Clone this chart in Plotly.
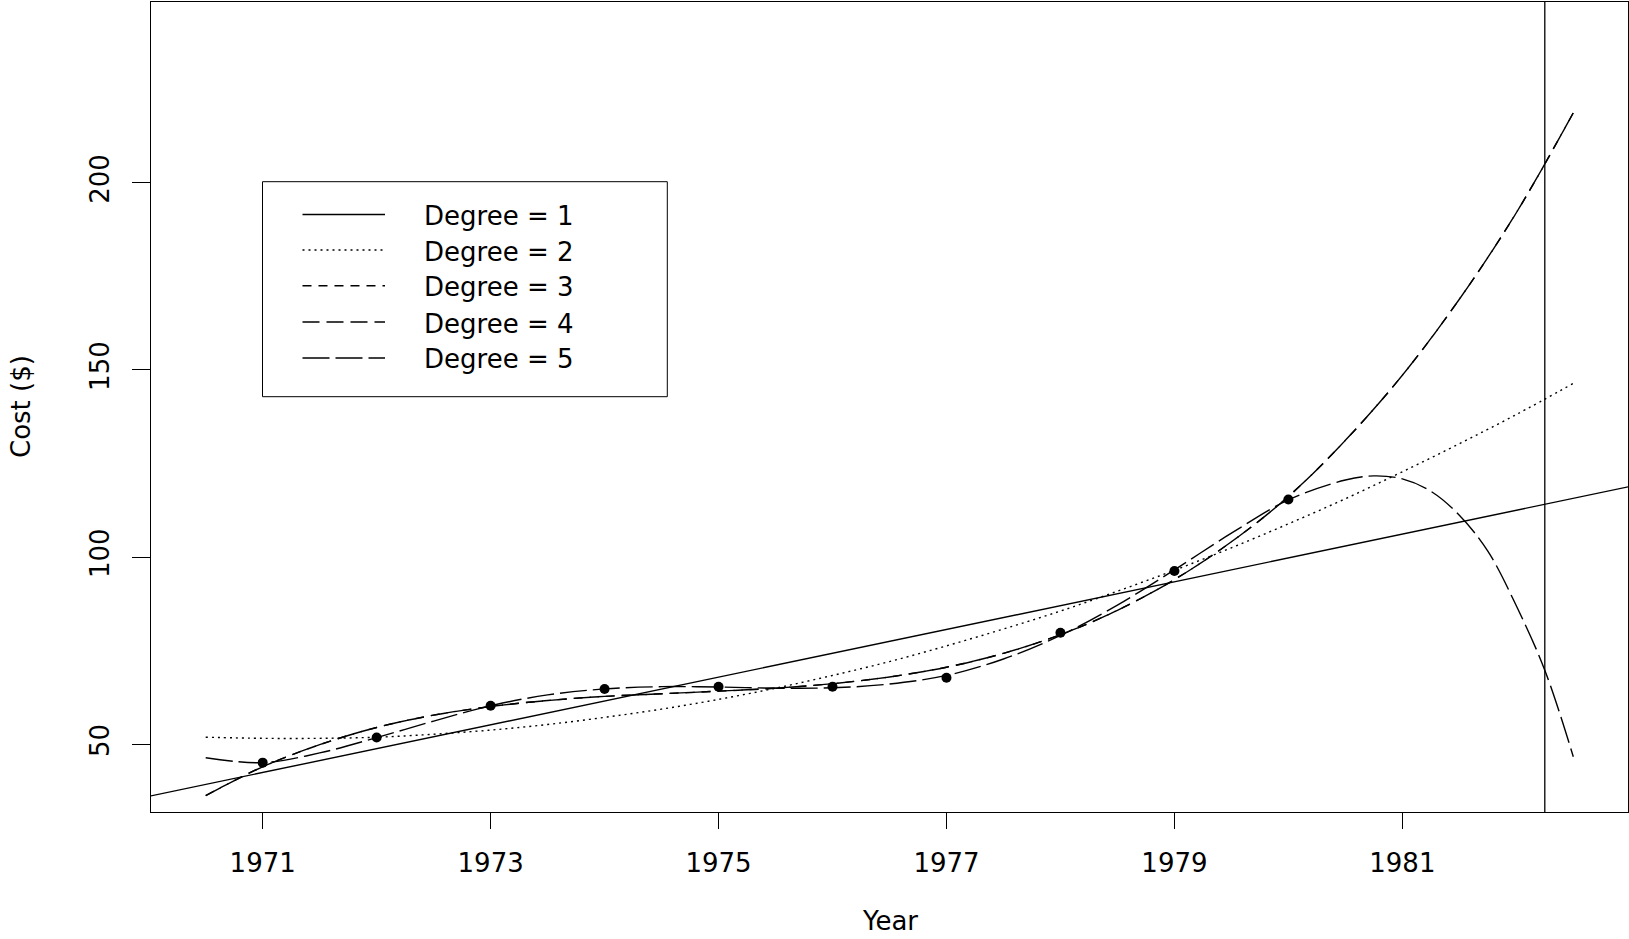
import plotly.graph_objects as go

# ---------------- data ----------------
years = [1971, 1972, 1973, 1974, 1975, 1976, 1977, 1978, 1979, 1980]
cost = [45.1, 51.8, 60.3, 64.8, 65.4, 65.4, 67.8, 79.8, 96.3, 115.4]

# degree 1 straight line, read at the two frame edges
deg1_years = [1970.0, 1983.0]
deg1_cost = [36.1, 118.9]

fit_years = [1970.5, 1971.0, 1971.5, 1972.0, 1972.5, 1973.0, 1973.5, 1974.0,
             1974.5, 1975.0, 1975.5, 1976.0, 1976.5, 1977.0, 1977.5, 1978.0,
             1978.5, 1979.0, 1979.5, 1980.0, 1980.5, 1981.0, 1981.5, 1982.0,
             1982.5]
deg2_cost = [51.9, 51.6, 51.6, 51.9, 52.7, 53.8, 55.3, 57.2, 59.4, 62.0, 65.0,
             68.4, 72.1, 76.3, 80.8, 85.6, 90.9, 96.5, 102.5, 108.9, 115.6,
             122.8, 130.3, 138.1, 146.4]
deg3_cost = [36.3, 44.0, 49.9, 54.5, 57.8, 60.1, 61.7, 62.8, 63.5, 64.2, 65.0,
             66.2, 68.0, 70.6, 74.3, 79.3, 85.8, 94.0, 104.1, 116.2, 131.2,
             148.6, 168.9, 192.0, 218.7]
deg4_cost = [36.3, 44.0, 49.9, 54.5, 57.8, 60.1, 61.7, 62.8, 63.5, 64.2, 65.0,
             66.2, 68.0, 70.6, 74.3, 79.3, 85.8, 94.0, 104.1, 116.2, 131.2,
             148.6, 168.9, 192.0, 218.7]
deg5_years = [1970.5, 1971.0, 1971.5, 1972.0, 1972.5, 1973.0, 1973.5, 1974.0,
              1974.5, 1975.0, 1975.5, 1976.0, 1976.5, 1977.0, 1977.5, 1978.0,
              1978.5, 1979.0, 1979.5, 1980.0, 1980.5, 1980.75, 1981.0, 1981.25,
              1981.5, 1981.75, 1982.0, 1982.25, 1982.5]
deg5_cost = [46.4, 45.1, 47.7, 51.8, 56.2, 60.3, 63.2, 64.8, 65.4, 65.3, 65.0,
             65.1, 66.1, 68.4, 72.8, 79.1, 87.2, 96.6, 106.4, 115.3, 120.6,
             121.7, 120.9, 117.6, 111.2, 101.6, 87.0, 69.8, 46.7]

cutoff_year = 1982.25

x_ticks = [1971, 1973, 1975, 1977, 1979, 1981]
y_ticks = [50, 100, 150, 200]
legend_labels = ["Degree = 1", "Degree = 2", "Degree = 3", "Degree = 4", "Degree = 5"]

# ---------------- styles ----------------
FONT = "DejaVu Sans"
FS = 26
LW = 1.4
dashes = ["solid", "2px,4px", "9px,7px", "17px,7px", "27px,6px"]

W, H = 1629, 939
L, R, T, B = 151, 1628, 2, 812


def px_x(p):
    return (p - L) / (R - L)


def px_y(p):
    return (B - p) / (B - T)


fig = go.Figure()
series = [(deg1_years, deg1_cost), (fit_years, deg2_cost), (fit_years, deg3_cost),
          (fit_years, deg4_cost), (deg5_years, deg5_cost)]
for (xs, ys), d in zip(series, dashes):
    fig.add_trace(go.Scatter(
        x=xs, y=ys, mode="lines",
        line=dict(color="black", width=LW, dash=d, shape="spline" if len(xs) > 2 else "linear"),
        showlegend=False, hoverinfo="skip"))

fig.add_trace(go.Scatter(x=years, y=cost, mode="markers",
                         marker=dict(color="black", size=10),
                         showlegend=False))

shapes = [dict(type="line", xref="x", yref="paper", x0=cutoff_year, x1=cutoff_year,
               y0=0, y1=1, line=dict(color="black", width=1.3))]

# legend box
shapes.append(dict(type="rect", xref="paper", yref="paper",
                   x0=px_x(262.5), x1=px_x(667.3), y0=px_y(396.7), y1=px_y(181.7),
                   line=dict(color="black", width=1), fillcolor="white", layer="above"))
row_y = [214.5, 250.0, 285.8, 322.0, 358.0]
annotations = []
for ry, d, lab in zip(row_y, dashes, legend_labels):
    shapes.append(dict(type="line", xref="paper", yref="paper",
                       x0=px_x(302.5), x1=px_x(385), y0=px_y(ry), y1=px_y(ry),
                       line=dict(color="black", width=LW, dash=d), layer="above"))
    annotations.append(dict(xref="paper", yref="paper", x=px_x(422), y=px_y(ry + 1.5),
                            xanchor="left", yanchor="middle", showarrow=False,
                            text=lab, font=dict(family=FONT, size=FS, color="black")))

annotations.append(dict(xref="paper", yref="paper", x=0.5, y=px_y(921),
                        xanchor="center", yanchor="middle", showarrow=False,
                        text="Year", font=dict(family=FONT, size=FS, color="black")))
annotations.append(dict(xref="paper", yref="paper", x=px_x(21), y=0.5,
                        xanchor="center", yanchor="middle", showarrow=False, textangle=-90,
                        text="Cost ($)", font=dict(family=FONT, size=FS, color="black")))

axis_common = dict(showgrid=False, zeroline=False, showline=True, linecolor="black",
                   linewidth=1, mirror=True, ticks="outside", tickcolor="black",
                   tickwidth=1, tickfont=dict(family=FONT, size=FS, color="black"))

fig.update_layout(
    width=W, height=H,
    margin=dict(l=L, r=W - R, t=T, b=H - B, pad=0),
    paper_bgcolor="white", plot_bgcolor="white",
    xaxis=dict(range=[1970.02, 1982.98], tickvals=x_ticks, ticklen=16,
               ticklabelstandoff=12, **axis_common),
    yaxis=dict(range=[31.92, 248.3], tickvals=y_ticks, ticklen=18, tickangle=-90,
               ticklabelstandoff=13, **axis_common),
    shapes=shapes, annotations=annotations, showlegend=False,
)

fig.write_html("out.html",
               config={"displayModeBar": False},
               post_script="document.body.style.margin='0px';"
                           "document.documentElement.style.overflow='hidden';")
